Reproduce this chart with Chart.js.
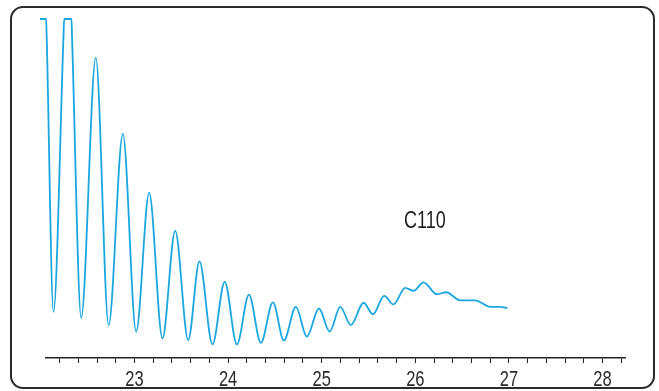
<!DOCTYPE html>
<html>
<head>
<meta charset="utf-8">
<script src="https://cdn.jsdelivr.net/npm/chart.js@4.4.1/dist/chart.umd.min.js"></script>
<style>
  html, body { margin: 0; padding: 0; background: #fff; }
  #wrap { position: relative; width: 659px; height: 391px; }
  #frame {
    position: absolute; left: 10px; top: 6px; width: 645px; height: 383px;
    box-sizing: border-box; border: 2px solid #2b2b2b; border-radius: 13px;
    pointer-events: none;
  }
  canvas { position: absolute; left: 0; top: 0; }
</style>
</head>
<body>
<div id="wrap">
  <canvas id="chart" width="659" height="391"></canvas>
  <div id="frame"></div>
</div>
<script>
// ── Data (retention time, relative signal; 100 = detector limit) ──
const times = [
  21.99, 22.056, 22.062, 22.135, 22.242, 22.249, 22.327, 22.333, 22.431,
  22.587, 22.724, 22.876, 23.018, 23.157, 23.299, 23.435, 23.574, 23.694,
  23.833, 23.964, 24.094, 24.223, 24.35, 24.479, 24.596, 24.724, 24.842,
  24.97, 25.085, 25.198, 25.312, 25.447, 25.547, 25.668, 25.767, 25.892,
  25.981, 26.088, 26.231, 26.33, 26.48, 26.64, 26.8, 26.907, 26.985
];
const signal = [
  100, 100, 95, 13.6, 95, 100, 100, 95, 11.8,
  88.6, 9.7, 66.1, 7.8, 48.7, 5.8, 37.5, 5.3, 28.5,
  4.0, 22.5, 4.0, 18.7, 4.5, 16.4, 5.2, 15.1, 6.3,
  14.6, 7.8, 15.1, 9.7, 16.3, 12.9, 18.3, 15.8, 20.7,
  19.8, 22.3, 18.8, 19.4, 17.0, 17.0, 15.1, 15.1, 14.7
];
const majorTicks = [23, 24, 25, 26, 27, 28];
const peakLabel = { text: "C110", x: 25.88, y: 38.3 };

const FONT = "'Liberation Sans', Arial, sans-serif";
const SQUEEZE = 0.75; // condensed look of the original lettering

function narrowText(ctx, text, x, y, size, color, align) {
  ctx.save();
  ctx.font = size + "px " + FONT;
  ctx.fillStyle = color;
  ctx.textAlign = align;
  ctx.textBaseline = "alphabetic";
  ctx.translate(x, y);
  ctx.scale(SQUEEZE, 1);
  ctx.fillText(text, 0, 0);
  ctx.restore();
}

// ── Tick labels + peak annotation ──
const labelPlugin = {
  id: "labels",
  afterDraw(chart) {
    const ctx = chart.ctx;
    const xs = chart.scales.x;
    const ys = chart.scales.y;

    majorTicks.forEach((t) => {
      narrowText(ctx, String(t), xs.getPixelForValue(t), xs.top + 28, 22, "#2a2a2a", "center");
    });

    narrowText(ctx, peakLabel.text, xs.getPixelForValue(peakLabel.x),
      ys.getPixelForValue(peakLabel.y), 24, "#1e1e1e", "left");
  },
};

function initChart() {
  const ctx = document.getElementById("chart").getContext("2d");

  new Chart(ctx, {
    type: "line",
    data: {
      datasets: [
        {
          data: times.map((t, i) => ({ x: t, y: signal[i] })),
          borderColor: "#1aa6e1",
          borderWidth: 1.8,
          pointRadius: 0,
          cubicInterpolationMode: "monotone",
          fill: false,
          clip: false,
        },
      ],
    },
    options: {
      responsive: false,
      animation: false,
      layout: { padding: { left: 46, right: 34, top: 19, bottom: 28 } },
      plugins: {
        legend: { display: false },
        tooltip: { enabled: false },
      },
      scales: {
        x: {
          type: "linear",
          min: 22.055,
          max: 28.24,
          grid: {
            drawOnChartArea: false,
            drawTicks: true,
            tickLength: 5,
            color: "#222",
            lineWidth: 1,
          },
          border: { display: true, color: "#222", width: 1.5 },
          ticks: {
            display: false,
            stepSize: 0.2,
            autoSkip: false,
            includeBounds: false,
          },
        },
        y: {
          display: false,
          min: 0,
          max: 100,
        },
      },
    },
    plugins: [labelPlugin],
  });
}

initChart();
</script>
</body>
</html>
